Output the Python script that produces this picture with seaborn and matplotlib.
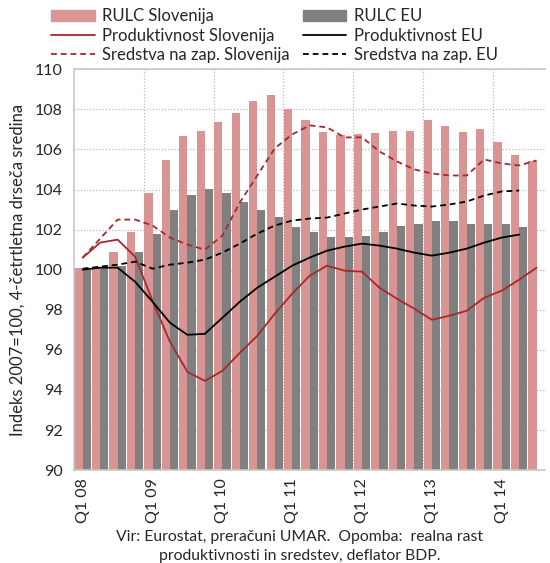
import numpy as np
import pandas as pd
import matplotlib
matplotlib.use("Agg")
import matplotlib.pyplot as plt
import seaborn as sns
from matplotlib.patches import Patch
from matplotlib.lines import Line2D

# Četrtletja Q1 08 .. Q3 14
quarters = [f"Q{q} {y:02d}" for y in range(8, 15) for q in range(1, 5)][:27]

rulc_si = [100.1, 100.1, 100.9, 101.9, 103.85, 105.45, 106.65, 106.9, 107.35,
           107.8, 108.4, 108.7, 108.0, 107.45, 106.85, 106.7, 106.75, 106.8,
           106.9, 106.9, 107.45, 107.15, 106.85, 107.0, 106.35, 105.7, 105.4]
rulc_eu = [100.0, 100.1, 100.2, 100.9, 101.8, 103.0, 103.75, 104.05, 103.85,
           103.4, 103.0, 102.65, 102.15, 101.9, 101.65, 101.65, 101.7, 101.9,
           102.2, 102.3, 102.45, 102.45, 102.3, 102.3, 102.3, 102.15]
prod_si = [100.6, 101.35, 101.5, 100.65, 98.45, 96.4, 94.9, 94.45, 94.95,
           95.85, 96.7, 97.8, 98.8, 99.7, 100.2, 99.95, 99.9, 99.1, 98.55,
           98.05, 97.5, 97.7, 97.95, 98.6, 98.95, 99.5, 100.1]
prod_eu = [100.0, 100.1, 100.1, 99.4, 98.4, 97.35, 96.75, 96.8, 97.6, 98.4,
           99.1, 99.65, 100.2, 100.6, 100.95, 101.15, 101.3, 101.2, 101.05,
           100.85, 100.7, 100.85, 101.05, 101.35, 101.6, 101.75]
sred_si = [100.6, 101.55, 102.5, 102.5, 102.2, 101.6, 101.25, 101.0, 101.7,
           103.35, 104.7, 106.05, 106.75, 107.2, 107.1, 106.6, 106.6, 105.9,
           105.4, 105.0, 104.8, 104.7, 104.7, 105.5, 105.3, 105.2, 105.45]
sred_eu = [100.05, 100.15, 100.25, 100.4, 100.05, 100.25, 100.35, 100.5,
           100.85, 101.3, 101.8, 102.2, 102.45, 102.55, 102.6, 102.8, 103.0,
           103.15, 103.3, 103.2, 103.15, 103.25, 103.4, 103.7, 103.9, 103.95]

pink = "#D99594"
grey = "#808080"
red = "#A8282A"

sns.set_theme(style="white")
plt.rcParams["font.family"] = ["Lato", "DejaVu Sans"]
narrow = ["Liberation Sans Narrow", "Lato", "DejaVu Sans"]

bars = pd.concat([
    pd.DataFrame({"q": quarters, "s": "RULC Slovenija", "v": rulc_si}),
    pd.DataFrame({"q": quarters[:len(rulc_eu)], "s": "RULC EU", "v": rulc_eu}),
])

fig = plt.figure(figsize=(5.5, 5.63), dpi=100)
ax = fig.add_axes([0.1345, 0.165, 0.857, 0.712])

sns.barplot(data=bars, x="q", y="v", hue="s", order=quarters,
            hue_order=["RULC Slovenija", "RULC EU"], palette=[pink, grey],
            width=0.94, gap=0, dodge=True, legend=False, ax=ax,
            saturation=1, linewidth=0, zorder=2)

dash = (0, (3.2, 2.2))
sns.lineplot(x=np.arange(len(prod_si)), y=prod_si, color=red, lw=1.3, ax=ax, zorder=3)
sns.lineplot(x=np.arange(len(prod_eu)), y=prod_eu, color="black", lw=1.3, ax=ax, zorder=3)
sns.lineplot(x=np.arange(len(sred_si)), y=sred_si, color=red, lw=1.3, ls=dash, ax=ax, zorder=3)
sns.lineplot(x=np.arange(len(sred_eu)), y=sred_eu, color="black", lw=1.3, ls=dash, ax=ax, zorder=3)

ax.set_ylim(90, 110)
ax.set_xlim(-0.5, len(quarters) - 0.5)
ax.set_yticks(range(90, 111, 2))
ax.set_xticks(range(len(quarters)))
ax.set_xticklabels([q if q.startswith("Q1") else "" for q in quarters],
                   rotation=90, fontsize=11.5)
ax.tick_params(axis="y", labelsize=11.5, length=0, pad=8)
ax.tick_params(axis="x", length=0, pad=6)
ax.set_xticks(np.arange(3.5, len(quarters), 4), minor=True)
ax.grid(axis="y", which="major", color="#BBBBBB", ls=(0, (1, 1.5)), lw=0.9, zorder=0)
ax.grid(axis="x", which="minor", color="#BBBBBB", ls=(0, (1, 1.5)), lw=0.9, zorder=0)
ax.set_axisbelow(True)
ax.set_xlabel("")
ax.set_ylabel("Indeks 2007=100, 4-četrtletna drseča sredina", fontsize=12,
              family=narrow, labelpad=7)
for side in ["left", "bottom", "top"]:
    ax.spines[side].set_color("#C8C8C8")
    ax.spines[side].set_linewidth(1.2)
ax.spines["right"].set_visible(False)

handles = [
    Patch(color=pink), Line2D([], [], color=red, lw=1.3),
    Line2D([], [], color=red, lw=1.3, ls=dash),
    Patch(color=grey), Line2D([], [], color="black", lw=1.3),
    Line2D([], [], color="black", lw=1.3, ls=dash),
]
labels = ["RULC Slovenija", "Produktivnost Slovenija", "Sredstva na zap. Slovenija",
          "RULC EU", "Produktivnost EU", "Sredstva na zap. EU"]
fig.legend(handles, labels, ncol=2, loc="upper left", bbox_to_anchor=(0.066, 1.012),
           frameon=False, prop={"family": narrow, "size": 12}, handlelength=2.6,
           handleheight=0.6, labelspacing=0.2, columnspacing=0.8, handletextpad=0.45)

fig.text(0.545, 0.046, "Vir: Eurostat, preračuni UMAR.  Opomba:  realna rast",
         ha="center", va="center", fontsize=11.3, family=narrow)
fig.text(0.545, 0.013, "produktivnosti in sredstev, deflator BDP.",
         ha="center", va="center", fontsize=11.3, family=narrow)

fig.savefig("out.png", dpi=100)
